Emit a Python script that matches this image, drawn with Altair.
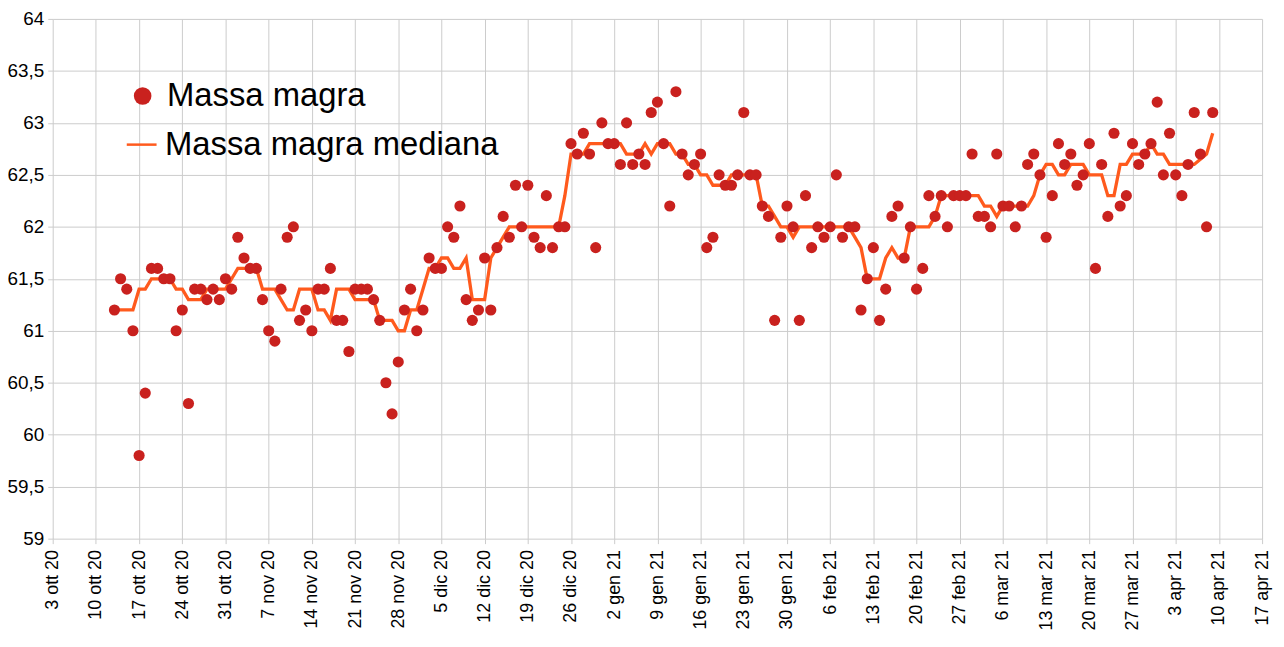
import json
import pandas as pd
import altair as alt

# ---- data ----
start_date = "2020-10-13"

massa = [
    61.2, 61.5, 61.4, 61.0, 59.8, 60.4, 61.6,
    61.6, 61.5, 61.5, 61.0, 61.2, 60.3, 61.4,
    61.4, 61.3, 61.4, 61.3, 61.5, 61.4, 61.9,
    61.7, 61.6, 61.6, 61.3, 61.0, 60.9, 61.4,
    61.9, 62.0, 61.1, 61.2, 61.0, 61.4, 61.4,
    61.6, 61.1, 61.1, 60.8, 61.4, 61.4, 61.4,
    61.3, 61.1, 60.5, 60.2, 60.7, 61.2, 61.4,
    61.0, 61.2, 61.7, 61.6, 61.6, 62.0, 61.9,
    62.2, 61.3, 61.1, 61.2, 61.7, 61.2, 61.8,
    62.1, 61.9, 62.4, 62.0, 62.4, 61.9, 61.8,
    62.3, 61.8, 62.0, 62.0, 62.8, 62.7, 62.9,
    62.7, 61.8, 63.0, 62.8, 62.8, 62.6, 63.0,
    62.6, 62.7, 62.6, 63.1, 63.2, 62.8, 62.2,
    63.3, 62.7, 62.5, 62.6, 62.7, 61.8, 61.9,
    62.5, 62.4, 62.4, 62.5, 63.1, 62.5, 62.5,
    62.2, 62.1, 61.1, 61.9, 62.2, 62.0, 61.1,
    62.3, 61.8, 62.0, 61.9, 62.0, 62.5, 61.9,
    62.0, 62.0, 61.2, 61.5, 61.8, 61.1, 61.4,
    62.1, 62.2, 61.7, 62.0, 61.4, 61.6, 62.3,
    62.1, 62.3, 62.0, 62.3, 62.3, 62.3, 62.7,
    62.1, 62.1, 62.0, 62.7, 62.2, 62.2, 62.0,
    62.2, 62.6, 62.7, 62.5, 61.9, 62.3, 62.8,
    62.6, 62.7, 62.4, 62.5, 62.8, 61.6, 62.6,
    62.1, 62.9, 62.2, 62.3, 62.8, 62.6, 62.7,
    62.8, 63.2, 62.5, 62.9, 62.5, 62.3, 62.6,
    63.1, 62.7, 62.0, 63.1,
]

mediana = [
    61.2, 61.2, 61.2, 61.2, 61.4, 61.4, 61.5,
    61.5, 61.5, 61.5, 61.4, 61.4, 61.3, 61.3,
    61.3, 61.4, 61.4, 61.4, 61.4, 61.5, 61.6,
    61.6, 61.6, 61.6, 61.4, 61.4, 61.4, 61.3,
    61.2, 61.2, 61.4, 61.4, 61.4, 61.2, 61.2,
    61.1, 61.4, 61.4, 61.4, 61.3, 61.3, 61.3,
    61.3, 61.1, 61.1, 61.1, 61.0, 61.0, 61.2,
    61.2, 61.4, 61.6, 61.6, 61.7, 61.7, 61.6,
    61.6, 61.7, 61.3, 61.3, 61.3, 61.7, 61.8,
    61.9, 62.0, 62.0, 62.0, 62.0, 62.0, 62.0,
    62.0, 62.0, 62.0, 62.3, 62.7, 62.7, 62.7,
    62.8, 62.8, 62.8, 62.8, 62.8, 62.8, 62.7,
    62.7, 62.7, 62.8, 62.7, 62.8, 62.8, 62.8,
    62.7, 62.7, 62.6, 62.6, 62.5, 62.5, 62.4,
    62.4, 62.4, 62.5, 62.5, 62.5, 62.5, 62.5,
    62.2, 62.2, 62.1, 62.0, 62.0, 61.9, 62.0,
    62.0, 62.0, 62.0, 62.0, 62.0, 62.0, 62.0,
    62.0, 61.9, 61.8, 61.5, 61.5, 61.5, 61.7,
    61.8, 61.7, 61.7, 62.0, 62.0, 62.0, 62.0,
    62.1, 62.3, 62.3, 62.3, 62.3, 62.3, 62.3,
    62.3, 62.2, 62.2, 62.1, 62.2, 62.2, 62.2,
    62.2, 62.2, 62.3, 62.5, 62.6, 62.6, 62.5,
    62.5, 62.6, 62.6, 62.6, 62.5, 62.5, 62.5,
    62.3, 62.3, 62.6, 62.6, 62.7, 62.7, 62.7,
    62.8, 62.7, 62.7, 62.6, 62.6, 62.6, 62.6,
    62.6, 62.65, 62.7, 62.9,
]

series_names = ["Massa magra", "Massa magra mediana"]

tick_labels = [
    "3 ott 20", "10 ott 20", "17 ott 20", "24 ott 20", "31 ott 20",
    "7 nov 20", "14 nov 20", "21 nov 20", "28 nov 20",
    "5 dic 20", "12 dic 20", "19 dic 20", "26 dic 20",
    "2 gen 21", "9 gen 21", "16 gen 21", "23 gen 21", "30 gen 21",
    "6 feb 21", "13 feb 21", "20 feb 21", "27 feb 21",
    "6 mar 21", "13 mar 21", "20 mar 21", "27 mar 21",
    "3 apr 21", "10 apr 21", "17 apr 21",
]
axis_start = "2020-10-03"

y_ticks = [59, 59.5, 60, 60.5, 61, 61.5, 62, 62.5, 63, 63.5, 64]

# ---- build table ----
dates = pd.date_range(start_date, periods=len(massa), freq="D").strftime("%Y-%m-%d")
df = pd.DataFrame({
    "data": list(dates),
    "massa": massa,
    "mediana": mediana,
    "serie_p": series_names[0],
    "serie_m": series_names[1],
})

WEEK = 7 * 86400000
t0 = int(pd.Timestamp(axis_start, tz="UTC").value // 10**6)
tick_vals = [t0 + i * WEEK for i in range(len(tick_labels))]
x_label_expr = f"{json.dumps(tick_labels)}[round((datum.value - {t0}) / {WEEK})]"

GRID = "#cccccc"
FONT = "Liberation Sans"
DOT = "#c9211e"
LINE = "#ff5a1d"

x_enc = alt.X(
    "data:T",
    scale=alt.Scale(type="utc", domain=[tick_vals[0], tick_vals[-1]], nice=False),
    axis=alt.Axis(
        values=tick_vals, labelExpr=x_label_expr, labelAngle=-90,
        labelFontSize=18, labelFont=FONT, labelColor="black",
        labelPadding=6, labelFlush=False, labelOverlap=False, labelBound=False,
        tickColor=GRID, tickSize=5, grid=True, gridColor=GRID, domain=False,
        title=None,
    ),
)

y_axis = alt.Axis(
    values=y_ticks, labelExpr="replace(toString(datum.value), '.', ',')",
    labelFontSize=19, labelFont=FONT, labelColor="black", labelPadding=4,
    tickColor=GRID, tickSize=5, grid=True, gridColor=GRID, domain=False,
    title=None,
)
y_scale = alt.Scale(domain=[59, 64], nice=False, zero=False)

line = alt.Chart(df).mark_line(strokeWidth=3.3).encode(
    x=x_enc,
    y=alt.Y("mediana:Q", scale=y_scale, axis=y_axis),
    stroke=alt.Stroke(
        "serie_m:N",
        scale=alt.Scale(domain=[series_names[1]], range=[LINE]),
        legend=alt.Legend(
            orient="none", legendX=73, legendY=110, title=None, padding=0,
            symbolType="stroke", symbolSize=900, symbolStrokeWidth=2.5,
            labelFontSize=33, labelFont=FONT, labelColor="black",
            labelOffset=7, labelLimit=600,
        ),
    ),
)

points = alt.Chart(df).mark_point(filled=True, size=125, opacity=1).encode(
    x=x_enc,
    y=alt.Y("massa:Q", scale=y_scale, axis=y_axis),
    color=alt.Color(
        "serie_p:N",
        scale=alt.Scale(domain=[series_names[0]], range=[DOT]),
        legend=alt.Legend(
            orient="none", legendX=74, legendY=61, title=None, padding=0,
            symbolType="circle", symbolSize=314, symbolOpacity=1,
            labelFontSize=33, labelFont=FONT, labelColor="black",
            labelOffset=8, labelLimit=600,
        ),
    ),
)

chart = alt.layer(line, points).properties(
    width=1217,
    height=523,
    autosize=alt.AutoSizeParams(type="none"),
    padding={"left": 45, "top": 9, "right": 14, "bottom": 100},
).configure_view(stroke=None)

chart.save("out.html", embed_options={"renderer": "svg", "actions": False})
